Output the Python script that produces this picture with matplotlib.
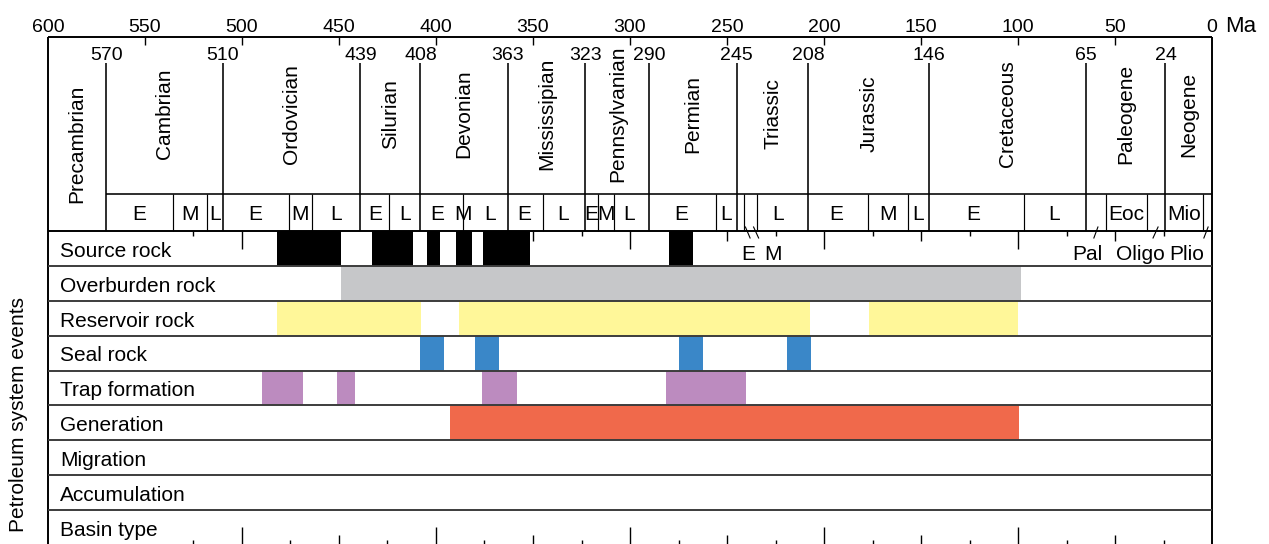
import matplotlib
matplotlib.use('Agg')
import matplotlib.pyplot as plt

plt.rcParams['font.family'] = ['Liberation Sans', 'DejaVu Sans']

# ---------------- data (ages in Ma) ----------------
axis_labels_ma = [600, 550, 500, 450, 400, 350, 300, 250, 200, 150, 100, 50]
period_bounds_ma = [570, 510, 439, 408, 363, 323, 290, 245, 208, 146, 65, 24]
period_names = ['Precambrian', 'Cambrian', 'Ordovician', 'Silurian', 'Devonian',
                'Mississipian', 'Pennsylvanian', 'Permian', 'Triassic', 'Jurassic',
                'Cretaceous', 'Paleogene', 'Neogene']
epoch_dividers_ma = [535.7, 518, 476, 463.8, 424, 386, 344.6, 316.7, 308, 255.8,
                     241.4, 234.7, 177.4, 156.8, 97, 54.6, 33.5, 4.6]
epoch_labels = ['E', 'M', 'L', 'E', 'M', 'L', 'E', 'L', 'E', 'M', 'L', 'E', 'L',
                'E', 'M', 'L', 'E', 'L', 'L', 'E', 'M', 'L', 'E', 'L', 'Eoc', 'Mio']
epoch_label_ma = [553, 527, 514, 493, 470, 451.5, 431.5, 416, 399.3, 386, 372,
                  354.4, 334.5, 319.9, 312.3, 300.5, 273.5, 250.5, 223.5, 193.5,
                  167, 151.5, 123.3, 81.5, 44.2, 14.4]
sub_labels = ['E', 'M', 'Pal', 'Oligo', 'Plio']
sub_label_ma = [239.3, 226.4, 64.4, 37.1, 12.9]
leader_top_ma = [240.5, 236.3, 58.8, 27.8, 2.0]
leader_bot_ma = [238.1, 233.7, 60.9, 30.4, 4.2]
event_ticks_ma = [525, 500, 475, 450, 425, 400, 375, 350, 325, 300, 275, 250, 225,
                  200, 175, 150, 125, 100, 75, 50, 25]

event_names = ['Source rock', 'Overburden rock', 'Reservoir rock', 'Seal rock',
               'Trap formation', 'Generation', 'Migration', 'Accumulation', 'Basin type']
source_rock = [(482, 449), (433, 412), (404.5, 398), (389.5, 381.3), (375.6, 351.3), (280, 267.7)]
overburden_rock = [(449, 98.3)]
reservoir_rock = [(482, 407.5), (388, 207), (176.7, 100)]
seal_rock = [(408, 395.8), (379.7, 367.4), (274.9, 262.6), (219.1, 206.8)]
trap_formation = [(489.6, 468.5), (450.9, 441.6), (376.1, 358), (281.6, 240.4)]
generation = [(392.7, 99.3)]
migration = []
accumulation = []
basin_type = []
event_data = [source_rock, overburden_rock, reservoir_rock, seal_rock, trap_formation,
              generation, migration, accumulation, basin_type]
event_colors = ['#000000', '#c6c7c9', '#fff799', '#3a87c8', '#bc8bbf', '#f0694b',
                '#ffffff', '#ffffff', '#ffffff']

# ---------------- layout ----------------
W, H = 1269, 544
fig = plt.figure(figsize=(W / 100, H / 100), dpi=100)
x0, x1 = 48, 1212
ax = fig.add_axes([x0 / W, 0, (x1 - x0) / W, 1])
ax.set_xlim(600, 0)
ax.set_ylim(H, 0)
ax.axis('off')

Y_AXIS = 37
Y_PER = 63
Y_EPO = 194
Y_ROWS = 231
ROW_H = 34.875
N_ROWS = len(event_names)
Y_BOT = Y_ROWS + ROW_H * N_ROWS

FS_NUM = 14
FS_TXT = 15
lw_frame = 1.4
lw_per = 1.15
lw_epo = 0.85
row_line_color = '#3c3c3c'

# top axis
ax.hlines(Y_AXIS, 0, 600, color='black', lw=lw_frame, clip_on=False)
for t in axis_labels_ma:
    ax.text(t, 31.5, str(t), ha='center', va='baseline', fontsize=FS_NUM, clip_on=False)
    if t not in (600, 0):
        ax.vlines(t, Y_AXIS, Y_AXIS + 8, color='black', lw=1.0)
ax.text(0, 31.5, '0', ha='center', va='baseline', fontsize=FS_NUM, clip_on=False)
ax.annotate('Ma', xy=(0, 31.5), xycoords='data', xytext=(13, 0), textcoords='offset pixels',
            ha='left', va='baseline', fontsize=FS_TXT + 1, annotation_clip=False)

# frame
ax.vlines([600, 0], Y_AXIS, Y_BOT + 5, color='black', lw=lw_frame, clip_on=False)

# period boundaries and numbers
ax.vlines(period_bounds_ma, Y_PER, Y_ROWS, color='black', lw=lw_per)
for b in period_bounds_ma:
    ax.text(b, 60.5, str(b), ha='center', va='baseline', fontsize=FS_NUM)

# period names
edges = [600] + period_bounds_ma + [0]
for i, name in enumerate(period_names):
    mid = (edges[i] + edges[i + 1]) / 2
    y = 144 if i == 0 else 114
    ax.text(mid, y, name, rotation=90, ha='center', va='center', fontsize=FS_TXT)

# epoch row
ax.hlines(Y_EPO, period_bounds_ma[0], 0, color='black', lw=lw_per)
ax.vlines(epoch_dividers_ma, Y_EPO, Y_ROWS, color='black', lw=lw_epo)
for lab, m in zip(epoch_labels, epoch_label_ma):
    ax.text(m, 220.5, lab, ha='center', va='baseline', fontsize=FS_TXT)

# ticks in event area
for t in event_ticks_ma:
    L = 18 if t % 100 == 0 else (10 if t % 50 == 0 else 5)
    ax.vlines(t, Y_ROWS, Y_ROWS + L, color='black', lw=1.0, zorder=1)
    ax.vlines(t, Y_BOT - L, Y_BOT, color='black', lw=1.0, zorder=1)

# event bars
for i, (bars, col) in enumerate(zip(event_data, event_colors)):
    top = Y_ROWS + i * ROW_H
    if bars:
        ax.broken_barh([(e, s - e) for s, e in bars], (top, ROW_H),
                       facecolors=col, edgecolor='none', zorder=2)
    ax.text(593.8, top + 25.8, event_names[i], ha='left', va='baseline',
            fontsize=FS_TXT, zorder=4)

# row lines
for i in range(N_ROWS + 1):
    y = Y_ROWS + i * ROW_H
    col = 'black' if i == 0 else row_line_color
    ax.hlines(y, 0, 600, color=col, lw=lw_frame, zorder=3)

# sub labels with leaders
for lab, m in zip(sub_labels, sub_label_ma):
    ax.text(m, 259.5, lab, ha='center', va='baseline', fontsize=FS_TXT, zorder=4)
for a, b in zip(leader_top_ma, leader_bot_ma):
    ax.plot([a, b], [227, 238], color='black', lw=0.8, zorder=4)

# y label
fig.text(19 / W, 1 - 415 / H, 'Petroleum system events', rotation=90,
         ha='center', va='center', fontsize=FS_TXT)

fig.savefig('out.png', dpi=100)
